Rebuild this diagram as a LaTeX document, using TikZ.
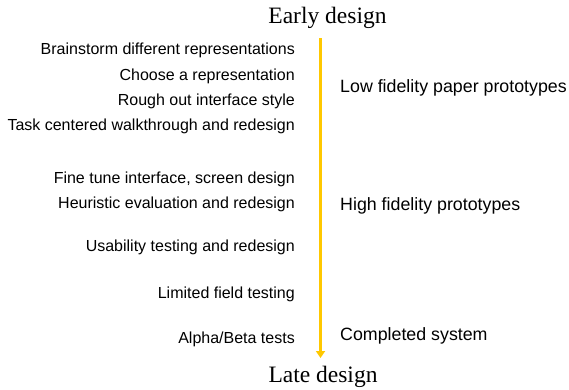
\documentclass[tikz,border=0pt]{standalone}
\usepackage{fontspec}
\setmainfont{Liberation Serif}
\setsansfont{Liberation Sans}
\usetikzlibrary{arrows.meta}
\definecolor{timegold}{RGB}{255,200,0}

\begin{document}
\begin{tikzpicture}[x=1pt, y=-1pt,
  activity/.style={anchor=east, inner sep=0pt, text height=11pt, text depth=3pt, font=\sffamily\fontsize{16}{19}\selectfont},
  phase/.style={anchor=west, inner sep=0pt, text height=12pt, text depth=4pt, font=\sffamily\fontsize{17.8}{21}\selectfont},
  milestone/.style={inner sep=0pt, font=\fontsize{23.5}{28}\selectfont}]
\useasboundingbox (0,0) rectangle (569,389);
% time line
\node[milestone] (early) at (327.5,18) {Early design};
\node[milestone] (late) at (323,377) {Late design};
\coordinate (tl top) at (320.5,38);
\coordinate (tl bot) at (320.5,358);
\draw[timegold, line width=3.5pt, -{Triangle[width=9pt,length=7pt]}] (tl top) -- (tl bot);
% activities
\node[activity] (brain) at (295,50) {Brainstorm different representations};
\node[activity] (choose) at (295,76) {Choose a representation};
\node[activity] (rough) at (295,101) {Rough out interface style};
\node[activity] (walk) at (295,126) {Task centered walkthrough and redesign};
\node[activity] (fine) at (295,179) {Fine tune interface, screen design};
\node[activity] (heur) at (295,204) {Heuristic evaluation and redesign};
\node[activity] (usab) at (295,247) {Usability testing and redesign};
\node[activity] (field) at (295,294) {Limited field testing};
\node[activity] (alpha) at (295,339) {Alpha/Beta tests};
% phases
\node[phase] (lofi) at (340,88) {Low fidelity paper prototypes};
\node[phase] (hifi) at (340,206) {High fidelity prototypes};
\node[phase] (done) at (340,336) {Completed system};
\end{tikzpicture}
\end{document}
